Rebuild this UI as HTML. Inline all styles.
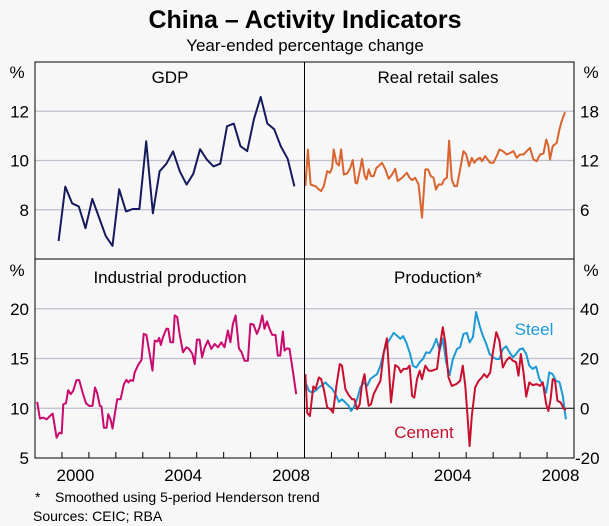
<!DOCTYPE html>
<html><head><meta charset="utf-8"><style>
body{margin:0;background:#f7f7f7;}
svg{display:block;font-family:"Liberation Sans",Arial,sans-serif;}
</style></head><body>
<svg id="c" width="609" height="526" viewBox="0 0 609 526">
<rect width="609" height="526" fill="#f7f7f7"/>
<text x="305" y="28" text-anchor="middle" font-size="25" font-weight="bold" fill="#000">China – Activity Indicators</text>
<text x="305" y="51" text-anchor="middle" font-size="17" fill="#000">Year-ended percentage change</text>
<g id="grid"></g><g id="series"></g><g id="frame"></g><g id="labels"></g>
<text x="35" y="502" font-size="14">*</text>
<text x="55" y="502" font-size="14">Smoothed using 5-period Henderson trend</text>
<text x="33" y="521" font-size="14">Sources:  CEIC; RBA</text>
</svg>
<script>
// GDP quarterly
const gdpDates=[1999.875,2000.125,2000.375,2000.625,2000.875,2001.125,2001.375,2001.625,2001.875,2002.125,2002.375,2002.625,2002.875,2003.125,2003.375,2003.625,2003.875,2004.125,2004.375,2004.625,2004.875,2005.125,2005.375,2005.625,2005.875,2006.125,2006.375,2006.625,2006.875,2007.125,2007.375,2007.625,2007.875,2008.125,2008.375,2008.625];
const gdpValues=[6.73,8.94,8.26,8.13,7.25,8.44,7.69,6.94,6.53,8.83,7.93,8.03,8.03,10.78,7.85,9.56,9.87,10.37,9.55,9.02,9.46,10.46,10.04,9.76,9.87,11.39,11.5,10.58,10.38,11.69,12.58,11.5,11.27,10.57,10.07,8.95];
// Retail sales (month index from Jan 1999)
const retailMonths=[0.4,1.5,2.7,3.9,4.9,6.4,7.4,8.6,10.1,11.3,12.3,13,14.2,15.3,16.3,17.5,19,20.4,21.5,22.7,23.4,24.9,25.6,26.8,27.6,28.6,29.6,30.8,32,33,34.5,36,37.5,39,40.4,41.5,43.4,45.6,46.8,47.9,49.3,50.8,52.3,53.8,55,56.3,57.5,58.5,59.7,61.2,62.2,63.4,64.4,65.6,66.7,67.9,69.3,70.8,72,73.3,74.5,75.6,76.7,78.2,79,80.4,82.7,84.1,85.6,86.8,88.3,90.1,91.6,93,94.5,96,97.5,99,100.4,101.9,103.4,104.9,106.4,107.6,108.6,109.3,110.5,112.3,113.5,114.5,116];
const retailValues=[8.88,13.34,9.08,8.96,8.88,8.47,8.27,8.88,10.7,10.5,11.11,13.34,11.72,11.39,13.34,10.3,10.42,11.11,12.04,9.28,9.2,11.11,12.2,10.1,9.69,10.91,10.1,10.1,11.11,11.31,11.72,10.91,9.77,10.3,10.99,9.49,9.89,10.5,9.89,9.61,9.89,9.08,5.03,10.91,10.91,10.1,9.89,8.47,9.08,9.08,9.69,9.89,14.43,9.69,8.88,8.88,10.91,13.14,12.73,11.31,12.33,11.72,12.12,12.33,11.92,12.53,11.72,11.72,12.53,13.34,13.14,12.73,12.93,13.14,12.33,12.73,12.73,13.14,13.54,12.12,11.92,12.73,12.85,14.55,13.74,12.12,13.74,14.15,15.77,16.78,17.88];
// Industrial production
const ipMonths=[1,2.2,3.7,5.2,6.7,7.9,9.6,10.8,11.9,12.6,13.8,14.8,15.9,17,18.5,19.7,21.2,22.7,24.1,25.6,26.7,27.7,28.9,29.6,30.7,31.9,32.6,33.6,34.5,36.6,38.1,39.6,40.7,41.6,42.5,43.7,44.4,45.9,47.4,48.4,49.6,50.8,52.3,53.3,54.5,55.3,56,57,58.5,59.3,60.3,61.5,62.2,63.3,64.4,65.9,67.4,68.6,70.1,71.1,72.1,73.3,74.4,75.6,77,78.5,80,81.5,83,84.4,85.9,87,88.1,89.3,90.8,92,93.3,94.8,95.9,97.3,98.8,100,101.2,102.2,103.3,104.4,105.6,107.1,108.1,109.2,110.4,111.1,112.3,113.3,114.8,116.3];
const ipValues=[10.64,8.96,9.06,8.89,9.23,9.46,7.04,7.54,7.47,10.4,10.51,11.82,11.41,11.75,12.83,12.83,11.58,10.51,10.24,10.24,12.09,11.52,10.24,10.17,8.05,8.05,9.39,8.89,7.95,10.91,10.91,12.42,12.86,12.59,12.83,12.76,13.6,14.34,14.85,17.47,17.37,15.79,13.77,16.8,16.7,17.07,16.36,17.14,17.98,17.98,16.63,16.63,19.33,19.16,17.47,15.62,16.13,15.96,15.45,14.44,16.9,16.9,15.12,16.13,16.8,15.96,16.46,16.13,16.63,16.13,17.81,16.63,18.48,19.33,16.03,15.62,14.78,14.78,18.48,18.42,17.47,18.15,19.33,17.98,18.72,17.98,17.37,17.37,15.29,15.29,17.71,15.79,16.03,15.96,13.77,11.41];
// Steel
const steelMonths=[0.4,1.9,3.4,4.9,6.4,7.9,9.3,10.8,12.3,13.8,15.3,16.7,18.2,19.7,20.7,21.9,23.4,24.9,26.4,27.9,29.3,30.8,32.3,33.8,35.3,36.7,38.2,39.7,41.2,42.7,43.9,45.3,46.8,48.3,49.8,51.3,52.7,54.2,55.7,57.2,58.7,60.2,61.6,63.1,64.6,66.1,67.9,69.3,70.8,72.3,73.5,75,76.4,77.9,79.4,80.9,82.4,83.9,85.4,86.8,88.3,89.8,91.3,92.8,94.2,95.7,97.2,98.7,100.1,101.6,103.1,104.6,106.1,107.6,109,110.5,112,113.5,115,116.4];
const steelValues=[10.4,7,6.3,7,8.4,9.3,10.4,9,7.9,5.7,2.6,3.6,2.3,0.9,-1.1,0.3,3.6,8.4,10.4,9,11.7,12.8,13.7,17.1,22.5,25.9,28.1,30.3,29.2,27.9,29,26.5,22.5,17.1,16.4,18.5,19.8,22.5,22.2,24.5,27.9,23.2,27.9,18.5,13.3,19.8,23.8,24.5,29.9,30.3,26.5,28.6,38.7,33.3,29.2,25.9,21.8,20.5,19.8,19.8,23.8,24.9,22.5,20.5,21.8,23.6,24.1,21.8,17.1,15.8,16.8,11.7,9.7,6.3,14.4,13.7,11,10.6,5,-4.4];
// Cement
const cementMonths=[0.4,1.2,2.4,3.9,4.9,6.4,7.4,8.6,10.1,11.6,12.7,14.2,15.7,16.7,18.2,19.7,21.2,22.2,23.4,24.6,25.6,26.7,27.6,28.6,29.6,30.8,32.3,33.8,35.3,36.7,37.5,38.5,40.4,41.9,42.9,44.1,45.6,46.8,47.9,48.9,50.1,51.3,52.3,53.8,55.3,56.7,59,60.4,61.6,62.7,64.1,65.6,67.6,69.3,70.5,71.6,72.6,73.5,74.5,76,77.5,79,80,81.2,82.7,83.9,85.4,86.8,88.3,89.8,91.3,92.8,94.2,95.3,96.3,97.5,98.7,100.1,101.6,103.4,104.9,106.1,107.6,108.6,109.6,110.5,111.6,112.6,114.1,115.6,116.4];
const cementValues=[13.7,-1.8,-3.1,8.8,7.7,12.4,11.7,7.7,0.3,-0.4,-1.8,9,17.8,17.1,7.7,5.3,3.6,3.6,-0.4,1.6,9.7,13.7,7,1,1.6,5.7,8.4,11,22.5,28.1,17.1,2.3,17.4,16.4,14.4,15.8,15.8,17.1,5,4.3,11.7,15.1,11.7,17.1,15.1,15.1,15.8,25.5,32.6,26.5,12.4,9,9.7,11,17.1,9,-3.1,-15.2,-3.1,8.4,11,12.4,13.7,12.4,14.4,22.5,30.6,27.2,16.4,19.1,20.5,19.1,18.5,13.1,21.8,14.4,4.7,10.4,9.3,9.7,9,10.4,1.6,-1.1,3.6,11.7,11,3,2.3,-0.4,-0.7];
const leftTicksTop=[8,10,12], rightTicksTop=[6,12,18], leftTicksBot=[5,10,15,20], rightTicksBot=[-20,0,20,40];
const yearLabels=[2000,2004,2008];

const NS='http://www.w3.org/2000/svg';
const L=35,M=304.5,R=574,T=62,MID=259,B=458;
function mk(tag,attrs,parent){const e=document.createElementNS(NS,tag);for(const k in attrs)e.setAttribute(k,attrs[k]);document.getElementById(parent).appendChild(e);return e;}
function xL(t){return L+(t-1999)*(M-L)/10;}
function xR(t){return M+(t-1999)*(R-M)/10;}
function yLin(v,vmin,vmax,top,bot){return bot-(v-vmin)/(vmax-vmin)*(bot-top);}
const yGdp=v=>yLin(v,6,14,T,MID), yRet=v=>yLin(v,0,24,T,MID), yIp=v=>yLin(v,5,25,MID,B), yProd=v=>yLin(v,-20,60,MID,B);

[10,12,8].forEach(v=>{const g=mk('line',{x1:L,x2:M,y1:yGdp(v),y2:yGdp(v),stroke:'#bcc0cc','stroke-width':1.3},'grid');});
[6,12,18].forEach(v=>{const g=mk('line',{x1:M,x2:R,y1:yRet(v),y2:yRet(v),stroke:'#bcc0cc','stroke-width':1.3},'grid');});
[10,15,20].forEach(v=>{const g=mk('line',{x1:L,x2:M,y1:yIp(v),y2:yIp(v),stroke:'#bcc0cc','stroke-width':1.3},'grid');});
[20,40].forEach(v=>{const g=mk('line',{x1:M,x2:R,y1:yProd(v),y2:yProd(v),stroke:'#bcc0cc','stroke-width':1.3},'grid');});
const z=mk('line',{x1:M,x2:R,y1:yProd(0),y2:yProd(0),stroke:'#000','stroke-width':1},'grid');


function series(xs,ys,xf,yf,color,name){
  const pts=xs.map((x,i)=>xf(x).toFixed(1)+','+yf(ys[i]).toFixed(1)).join(' ');
  const p=mk('polyline',{points:pts,fill:'none',stroke:color,'stroke-width':2,'stroke-linejoin':'round'},'series');
  
  
}
series(gdpDates,gdpValues,xL,yGdp,'#141a5c','gdp-line');
series(retailMonths.map(m=>1999+m/12),retailValues,xR,yRet,'#d9642e','retail-sales-line');
series(ipMonths.map(m=>1999+m/12),ipValues,xL,yIp,'#c8096e','industrial-production-line');
series(steelMonths.map(m=>1999+m/12),steelValues,xR,yProd,'#1c9ad6','steel-line');
series(cementMonths.map(m=>1999+m/12),cementValues,xR,yProd,'#c8102e','cement-line');

const fr=mk('rect',{x:L,y:T,width:R-L,height:B-T,fill:'none',stroke:'#000','stroke-width':1},'frame');

const v1=mk('line',{x1:M,x2:M,y1:T,y2:B,stroke:'#000','stroke-width':1},'frame');

const h1=mk('line',{x1:L,x2:R,y1:MID,y2:MID,stroke:'#000','stroke-width':1},'frame');

for(let y=2000;y<=2008;y++){
  [xL(y),xR(y)].forEach(x=>{const t=mk('line',{x1:x,x2:x,y1:B,y2:B-6,stroke:'#000','stroke-width':1},'frame');});
}
function txt(x,y,s,anchor,name,size,color){const e=mk('text',{x:x,y:y,'text-anchor':anchor,'font-size':size||17,fill:color||'#000'},'labels');e.textContent=s;return e;}
yearLabels.forEach(y=>{txt(xL(y+0.5),481,String(y),'middle','x-tick-label');if(y>2000)txt(xR(y+0.5),481,String(y),'middle','x-tick-label');});
leftTicksTop.forEach(v=>txt(29,yGdp(v)+6,String(v),'end','y-tick-label-left'));
rightTicksTop.forEach(v=>txt(580,yRet(v)+6,String(v),'start','y-tick-label-right'));
leftTicksBot.forEach(v=>txt(29,yIp(v)+6,String(v),'end','y-tick-label-left'));
rightTicksBot.forEach(v=>txt(v<0?575:580,yProd(v)+6,String(v),'start','y-tick-label-right'));
txt(17,78,'%','middle','y-unit-left');txt(591,78,'%','middle','y-unit-right');
txt(17,276,'%','middle','y-unit-left');txt(591,276,'%','middle','y-unit-right');
txt(170,83,'GDP','middle','panel-title-gdp',17);
txt(438,83,'Real retail sales','middle','panel-title-retail',17);
txt(170,283,'Industrial production','middle','panel-title-ip',17);
txt(438,283,'Production*','middle','panel-title-production',17);
txt(534,335,'Steel','middle','steel-label',17,'#1c9ad6');
txt(424,438,'Cement','middle','cement-label',17,'#c8102e');
</script>
</body></html>
